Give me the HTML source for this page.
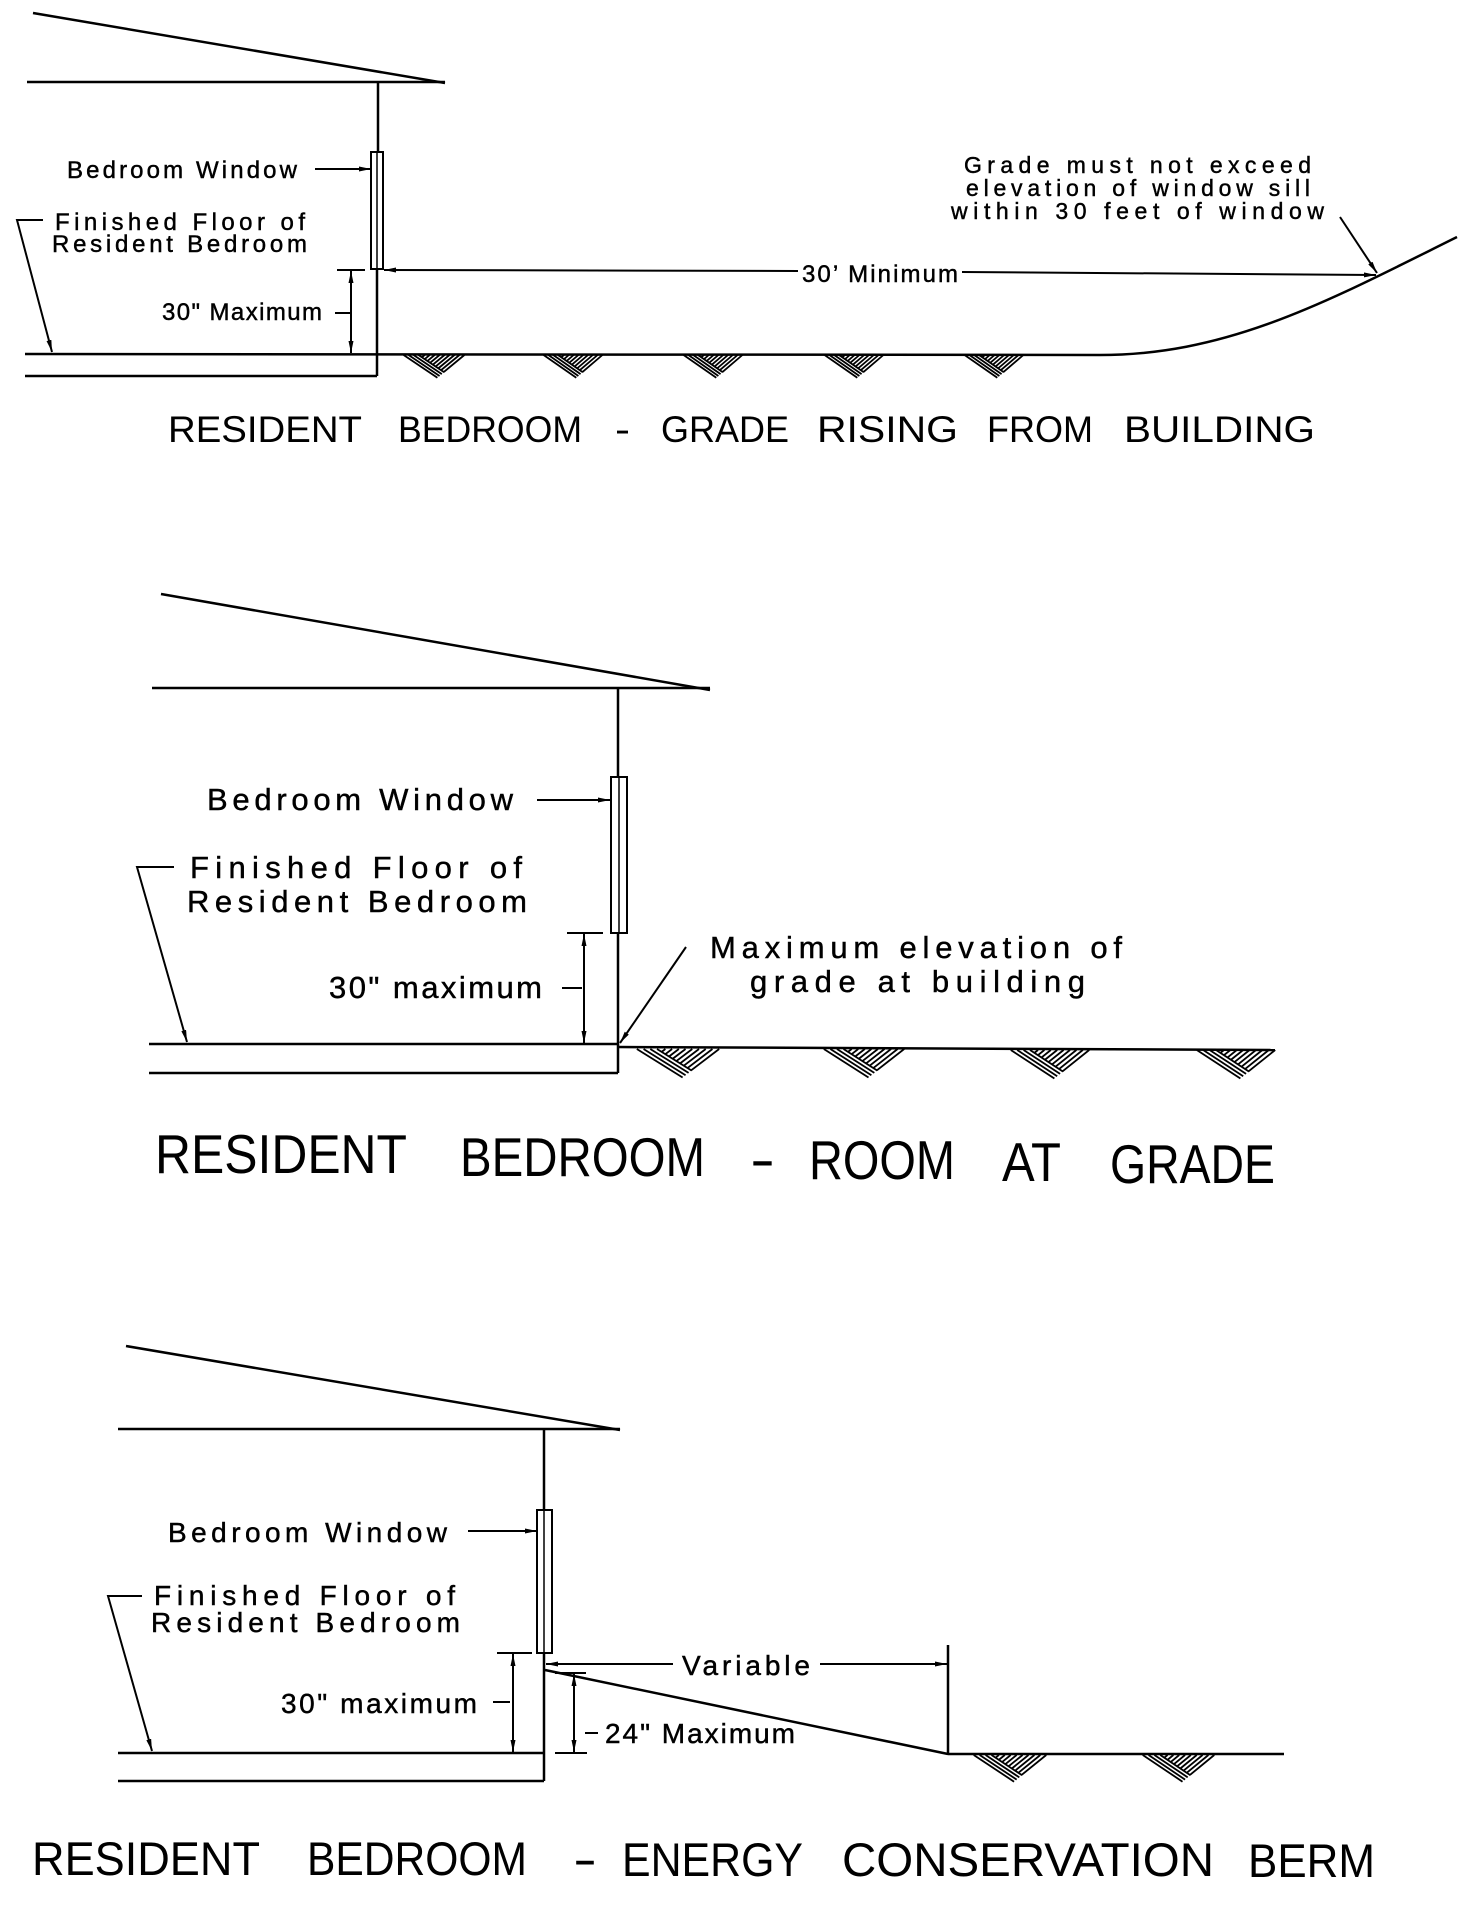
<!DOCTYPE html>
<html>
<head>
<meta charset="utf-8">
<style>
  html,body{margin:0;padding:0;background:#fff;}
  svg{display:block;}
  text{font-family:"Liberation Sans","DejaVu Sans",sans-serif;fill:#000;}
  .lb{stroke:#000;stroke-width:0.45;}
</style>
</head>
<body>
<svg width="1475" height="1916" viewBox="0 0 1475 1916" xmlns="http://www.w3.org/2000/svg">
<defs>
  <marker id="ar" viewBox="0 0 12 5" refX="12" refY="2.5" markerWidth="12" markerHeight="5" markerUnits="userSpaceOnUse" orient="auto-start-reverse">
    <path d="M0,0 L12,2.5 L0,5 z" fill="#000"/>
  </marker>
  <g id="h" fill="none" stroke="#000">
    <line vector-effect="non-scaling-stroke" stroke-width="1.8" x1="1" y1="0" x2="55.5" y2="35.6"/>
    <line vector-effect="non-scaling-stroke" stroke-width="1.8" x1="9" y1="0" x2="59" y2="32.8"/>
    <line vector-effect="non-scaling-stroke" stroke-width="1.8" x1="17" y1="0" x2="62.6" y2="29.9"/>
    <line vector-effect="non-scaling-stroke" stroke-width="1.8" x1="25" y1="0" x2="66.3" y2="27"/>
    <line vector-effect="non-scaling-stroke" stroke-width="1.8" x1="99" y1="0" x2="65.7" y2="26.6"/>
    <line vector-effect="non-scaling-stroke" stroke-width="1.8" x1="91" y1="0" x2="61.3" y2="23.8"/>
    <line vector-effect="non-scaling-stroke" stroke-width="1.8" x1="83" y1="0" x2="56.9" y2="20.9"/>
    <line vector-effect="non-scaling-stroke" stroke-width="1.8" x1="75" y1="0" x2="52.5" y2="18"/>
    <line vector-effect="non-scaling-stroke" stroke-width="1.8" x1="67" y1="0" x2="48.1" y2="15.1"/>
    <line vector-effect="non-scaling-stroke" stroke-width="1.8" x1="59" y1="0" x2="43.7" y2="12.2"/>
    <line vector-effect="non-scaling-stroke" stroke-width="1.8" x1="51" y1="0" x2="39.3" y2="9.4"/>
    <line vector-effect="non-scaling-stroke" stroke-width="1.8" x1="43" y1="0" x2="34.9" y2="6.5"/>
    <line vector-effect="non-scaling-stroke" stroke-width="1.8" x1="35" y1="0" x2="30.5" y2="3.6"/>
  </g>
</defs>

<!-- ================= SECTION 1 ================= -->
<g stroke="#000" stroke-width="2.5" fill="none">
  <line x1="33" y1="13" x2="445" y2="83"/>
  <line x1="27" y1="82" x2="445" y2="82"/>
  <line x1="378" y1="82" x2="378" y2="152"/>
  <rect x="371" y="152" width="12" height="117" stroke-width="2"/>
  <line x1="377" y1="152" x2="377" y2="269" stroke-width="1.5"/>
  <line x1="377" y1="269" x2="377" y2="376"/>
  <line x1="25" y1="376" x2="377" y2="376"/>
  <path d="M25 354 L1100 355 C1230 355 1330 300 1457 237"/>
</g>
<g stroke="#000" stroke-width="2" fill="none">
  <line x1="337" y1="270" x2="365" y2="270"/>
  <line x1="351" y1="271" x2="351" y2="353" marker-start="url(#ar)" marker-end="url(#ar)"/>
  <line x1="335" y1="313" x2="350" y2="313"/>
  <line x1="384" y1="270" x2="798" y2="271" marker-start="url(#ar)"/>
  <line x1="962" y1="272" x2="1376" y2="275" marker-end="url(#ar)"/>
  <line x1="1340" y1="217" x2="1377" y2="273" marker-end="url(#ar)"/>
  <line x1="315" y1="169" x2="371" y2="169" marker-end="url(#ar)"/>
  <polyline points="43,220 17,220 52,352" marker-end="url(#ar)"/>
</g>
<text class="lb" x="67" y="178" font-size="24" textLength="230" lengthAdjust="spacing">Bedroom Window</text>
<text class="lb" x="55" y="230" font-size="24" textLength="250" lengthAdjust="spacing">Finished Floor of</text>
<text class="lb" x="52" y="252" font-size="24" textLength="255" lengthAdjust="spacing">Resident Bedroom</text>
<text class="lb" x="162" y="320" font-size="24" textLength="160" lengthAdjust="spacing">30" Maximum</text>
<text class="lb" x="802" y="282" font-size="24" textLength="156" lengthAdjust="spacing">30’ Minimum</text>
<text class="lb" x="964" y="173" font-size="23" textLength="347" lengthAdjust="spacing">Grade must not exceed</text>
<text class="lb" x="966" y="196" font-size="23" textLength="344" lengthAdjust="spacing">elevation of window sill</text>
<text class="lb" x="951" y="219" font-size="23" textLength="373" lengthAdjust="spacing">within 30 feet of window</text>

<use href="#h" transform="translate(403,355) scale(0.62,0.64)"/>
<use href="#h" transform="translate(543,355) scale(0.60,0.64)"/>
<use href="#h" transform="translate(683,355) scale(0.60,0.64)"/>
<use href="#h" transform="translate(824,355) scale(0.60,0.64)"/>
<use href="#h" transform="translate(964,355) scale(0.60,0.64)"/>

<g font-size="37">
  <text x="168" y="442" textLength="194" lengthAdjust="spacingAndGlyphs">RESIDENT</text>
  <text x="398" y="442" textLength="184" lengthAdjust="spacingAndGlyphs">BEDROOM</text>
  <text x="615" y="442" textLength="15" lengthAdjust="spacingAndGlyphs">-</text>
  <text x="661" y="442" textLength="128" lengthAdjust="spacingAndGlyphs">GRADE</text>
  <text x="817" y="442" textLength="141" lengthAdjust="spacingAndGlyphs">RISING</text>
  <text x="987" y="442" textLength="106" lengthAdjust="spacingAndGlyphs">FROM</text>
  <text x="1124" y="442" textLength="191" lengthAdjust="spacingAndGlyphs">BUILDING</text>
</g>

<!-- ================= SECTION 2 ================= -->
<g stroke="#000" stroke-width="2.5" fill="none">
  <line x1="161" y1="594" x2="710" y2="690"/>
  <line x1="152" y1="688" x2="710" y2="688"/>
  <line x1="618" y1="688" x2="618" y2="777"/>
  <rect x="611" y="777" width="16" height="156" stroke-width="2"/>
  <line x1="619" y1="777" x2="619" y2="933" stroke-width="1.5"/>
  <line x1="618" y1="933" x2="618" y2="1073"/>
  <line x1="149" y1="1073" x2="618" y2="1073"/>
  <line x1="149" y1="1044" x2="618" y2="1044"/>
  <line x1="618" y1="1047" x2="1275" y2="1050"/>
</g>
<g stroke="#000" stroke-width="2" fill="none">
  <line x1="567" y1="933" x2="603" y2="933"/>
  <line x1="584" y1="934" x2="584" y2="1043" marker-start="url(#ar)" marker-end="url(#ar)"/>
  <line x1="562" y1="988" x2="582" y2="988"/>
  <line x1="537" y1="800" x2="610" y2="800" marker-end="url(#ar)"/>
  <polyline points="174,867 137,867 187,1042" marker-end="url(#ar)"/>
  <line x1="686" y1="947" x2="620" y2="1043" marker-end="url(#ar)"/>
</g>
<text class="lb" x="207" y="810" font-size="31" textLength="306" lengthAdjust="spacing">Bedroom Window</text>
<text class="lb" x="190" y="878" font-size="31" textLength="332" lengthAdjust="spacing">Finished Floor of</text>
<text class="lb" x="187" y="912" font-size="31" textLength="340" lengthAdjust="spacing">Resident Bedroom</text>
<text class="lb" x="329" y="998" font-size="31" textLength="213" lengthAdjust="spacing">30" maximum</text>
<text class="lb" x="710" y="958" font-size="31" textLength="412" lengthAdjust="spacing">Maximum elevation of</text>
<text class="lb" x="750" y="992" font-size="31" textLength="335" lengthAdjust="spacing">grade at building</text>

<use href="#h" transform="translate(636,1049) scale(0.84,0.80)"/>
<use href="#h" transform="translate(823,1049) scale(0.82,0.80)"/>
<use href="#h" transform="translate(1010,1050) scale(0.80,0.80)"/>
<use href="#h" transform="translate(1196,1050) scale(0.80,0.80)"/>

<g font-size="55">
  <text x="155" y="1173" textLength="252" lengthAdjust="spacingAndGlyphs">RESIDENT</text>
  <text x="460" y="1176" textLength="245" lengthAdjust="spacingAndGlyphs">BEDROOM</text>
  <text x="750" y="1178" textLength="25" lengthAdjust="spacingAndGlyphs">-</text>
  <text x="809" y="1179" textLength="146" lengthAdjust="spacingAndGlyphs">ROOM</text>
  <text x="1002" y="1181" textLength="59" lengthAdjust="spacingAndGlyphs">AT</text>
  <text x="1110" y="1183" textLength="165" lengthAdjust="spacingAndGlyphs">GRADE</text>
</g>

<!-- ================= SECTION 3 ================= -->
<g stroke="#000" stroke-width="2.5" fill="none">
  <line x1="126" y1="1346" x2="620" y2="1430"/>
  <line x1="118" y1="1429" x2="620" y2="1429"/>
  <line x1="544" y1="1429" x2="544" y2="1510"/>
  <rect x="537" y="1510" width="15" height="143" stroke-width="2"/>
  <line x1="544" y1="1510" x2="544" y2="1653" stroke-width="1.5"/>
  <line x1="544" y1="1653" x2="544" y2="1781"/>
  <line x1="118" y1="1753" x2="544" y2="1753"/>
  <line x1="118" y1="1781" x2="544" y2="1781"/>
  <line x1="545" y1="1670" x2="948" y2="1754"/>
  <line x1="948" y1="1754" x2="1284" y2="1754"/>
  <line x1="948" y1="1645" x2="948" y2="1755"/>
</g>
<g stroke="#000" stroke-width="2" fill="none">
  <line x1="497" y1="1653" x2="532" y2="1653"/>
  <line x1="513" y1="1654" x2="513" y2="1752" marker-start="url(#ar)" marker-end="url(#ar)"/>
  <line x1="493" y1="1702" x2="510" y2="1702"/>
  <line x1="468" y1="1531" x2="537" y2="1531" marker-end="url(#ar)"/>
  <polyline points="142,1596 108,1596 152,1751" marker-end="url(#ar)"/>
  <line x1="673" y1="1664" x2="546" y2="1664" marker-end="url(#ar)"/>
  <line x1="820" y1="1664" x2="947" y2="1664" marker-end="url(#ar)"/>
  <line x1="555" y1="1673" x2="586" y2="1673"/>
  <line x1="555" y1="1753" x2="587" y2="1753"/>
  <line x1="574" y1="1674" x2="574" y2="1752" marker-start="url(#ar)" marker-end="url(#ar)"/>
  <line x1="585" y1="1733" x2="598" y2="1733"/>
</g>
<text class="lb" x="168" y="1542" font-size="28" textLength="279" lengthAdjust="spacing">Bedroom Window</text>
<text class="lb" x="154" y="1605" font-size="28" textLength="301" lengthAdjust="spacing">Finished Floor of</text>
<text class="lb" x="151" y="1632" font-size="28" textLength="309" lengthAdjust="spacing">Resident Bedroom</text>
<text class="lb" x="281" y="1713" font-size="28" textLength="196" lengthAdjust="spacing">30" maximum</text>
<text class="lb" x="682" y="1675" font-size="28" textLength="128" lengthAdjust="spacing">Variable</text>
<text class="lb" x="605" y="1743" font-size="28" textLength="190" lengthAdjust="spacing">24" Maximum</text>

<use href="#h" transform="translate(973,1755) scale(0.74,0.75)"/>
<use href="#h" transform="translate(1142,1755) scale(0.73,0.75)"/>

<g font-size="47">
  <text x="32" y="1875" textLength="228" lengthAdjust="spacingAndGlyphs">RESIDENT</text>
  <text x="307" y="1875" textLength="220" lengthAdjust="spacingAndGlyphs">BEDROOM</text>
  <text x="573" y="1875" textLength="24" lengthAdjust="spacingAndGlyphs">-</text>
  <text x="622" y="1876" textLength="181" lengthAdjust="spacingAndGlyphs">ENERGY</text>
  <text x="842" y="1876" textLength="372" lengthAdjust="spacingAndGlyphs">CONSERVATION</text>
  <text x="1248" y="1877" textLength="127" lengthAdjust="spacingAndGlyphs">BERM</text>
</g>
</svg>
</body>
</html>
